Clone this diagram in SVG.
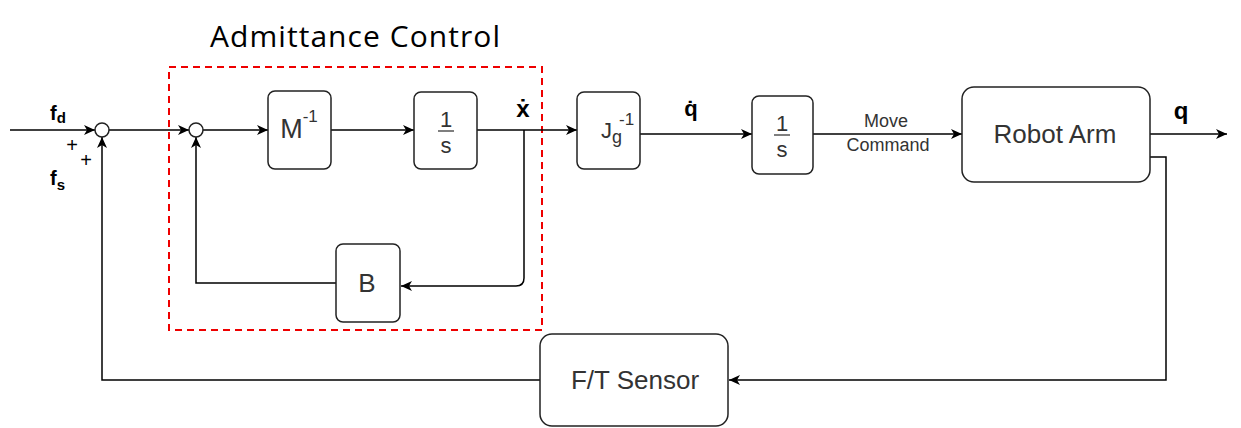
<svg xmlns="http://www.w3.org/2000/svg" width="1241" height="428" viewBox="0 0 1241 428">
<defs>
<marker id="arr" markerUnits="userSpaceOnUse" markerWidth="12" markerHeight="10" refX="11" refY="5" orient="auto">
<path d="M0,0 L11,5 L0,10 L3,5 Z" fill="#000"/>
</marker>
<style>
.blk{fill:#fff;stroke:#222;stroke-width:1.5}
.sum{fill:#fff;stroke:#222;stroke-width:1.5}
.ln{fill:none;stroke:#000;stroke-width:1.5}
.t{font-family:"Liberation Sans",Arial,sans-serif;fill:#333;text-anchor:middle}
.b{font-family:"Liberation Sans","DejaVu Sans",Arial,sans-serif;font-weight:bold;fill:#000}
.pl{font-family:"Liberation Sans",Arial,sans-serif;fill:#000;text-anchor:middle;font-size:20px}
.frac{stroke:#555;stroke-width:1.5}
</style>
</defs>
<rect width="1241" height="428" fill="#fff"/>

<g id="admittance-frame">
<rect x="169" y="67" width="373" height="263" fill="none" stroke="#e00" stroke-width="2" stroke-dasharray="7,5"/>
<text x="355" y="47" font-family="'Open Sans',sans-serif" font-size="30" text-anchor="middle" fill="#000" textLength="290">Admittance Control</text>
</g>

<g id="connectors">
<path class="ln" d="M10 130 L95 130" marker-end="url(#arr)"/>
<path class="ln" d="M109 130 L189 130" marker-end="url(#arr)"/>
<path class="ln" d="M203 130 L268 130" marker-end="url(#arr)"/>
<path class="ln" d="M331 130 L414 130" marker-end="url(#arr)"/>
<path class="ln" d="M477 130 L577 130" marker-end="url(#arr)"/>
<path class="ln" d="M524 130 L524 278 Q524 286 516 286 L401 286" marker-end="url(#arr)"/>
<path class="ln" d="M336 283 L196 283 L196 137" marker-end="url(#arr)"/>
<path class="ln" d="M640 134 L752 134" marker-end="url(#arr)"/>
<path class="ln" d="M813 134 L962 134" marker-end="url(#arr)"/>
<path class="ln" d="M1150 134 L1227 134" marker-end="url(#arr)"/>
<path class="ln" d="M1150 157 L1166 157 L1166 380 L729 380" marker-end="url(#arr)"/>
<path class="ln" d="M540 380 L102 380 L102 137" marker-end="url(#arr)"/>
<text x="886" y="127" class="t" font-size="18">Move</text>
<text x="888" y="151" class="t" font-size="18">Command</text>
</g>

<g id="sum1">
<circle class="sum" cx="102" cy="130" r="7"/>
<text x="50" y="120" class="b" font-size="20">f<tspan font-size="15" dy="3">d</tspan></text>
<text x="50" y="185" class="b" font-size="20">f<tspan font-size="15" dy="5">s</tspan></text>
<text x="72" y="152" class="pl">+</text>
<text x="86" y="167" class="pl">+</text>
</g>

<g id="sum2">
<circle class="sum" cx="196" cy="130" r="7"/>
</g>

<g id="minv">
<rect class="blk" x="268" y="91" width="63" height="78" rx="7"/>
<text x="299" y="138" class="t" font-size="27">M<tspan font-size="17" dy="-16">-1</tspan></text>
</g>

<g id="integ1">
<rect class="blk" x="414" y="92" width="63" height="77" rx="7"/>
<text x="446" y="127" class="t" font-size="22">1</text>
<line class="frac" x1="438" y1="131" x2="454" y2="131"/>
<text x="446" y="153" class="t" font-size="22">s</text>
<text x="523" y="117" class="b" font-size="24" text-anchor="middle">ẋ</text>
</g>

<g id="jg">
<rect class="blk" x="577" y="92" width="63" height="77" rx="7"/>
<text x="601" y="138" font-family="'Liberation Sans',Arial,sans-serif" font-size="22" fill="#333">J<tspan font-size="18" dy="5">g</tspan></text>
<text x="619" y="125" font-family="'Liberation Sans',Arial,sans-serif" font-size="17" fill="#333">-1</text>
<text x="691" y="116" class="b" font-size="22" text-anchor="middle">q̇</text>
</g>

<g id="integ2">
<rect class="blk" x="752" y="96" width="61" height="78" rx="7"/>
<text x="782" y="131" class="t" font-size="22">1</text>
<line class="frac" x1="774" y1="135" x2="790" y2="135"/>
<text x="782" y="157" class="t" font-size="22">s</text>
</g>

<g id="robot-arm">
<rect class="blk" x="962" y="87" width="188" height="95" rx="12"/>
<text x="1055" y="143" class="t" font-size="26">Robot Arm</text>
<text x="1181" y="119" class="b" font-size="24" text-anchor="middle">q</text>
</g>

<g id="b-block">
<rect class="blk" x="336" y="244" width="64" height="78" rx="7"/>
<text x="367" y="292" class="t" font-size="26">B</text>
</g>

<g id="ft-sensor">
<rect class="blk" x="540" y="334" width="188" height="92" rx="12"/>
<text x="635" y="389" class="t" font-size="26">F/T Sensor</text>
</g>
</svg>
